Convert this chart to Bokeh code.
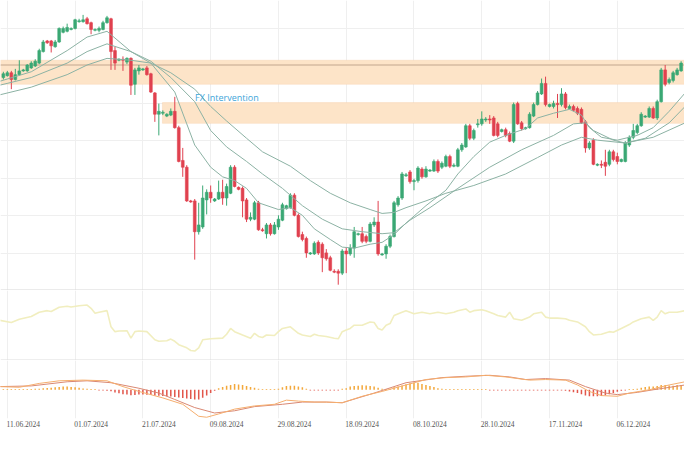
from bokeh.plotting import figure
from bokeh.layouts import column
from bokeh.models import Range1d, FixedTicker, BoxAnnotation, Span, Label, ColumnDataSource
from bokeh.embed import file_html
from bokeh.resources import INLINE

# ---------------- data ----------------
first_idx = -1  # candle index of the first candle; 0 = 11.06.2024
opens = [157.05, 157.20, 157.43, 156.89, 157.28, 157.58, 157.58, 157.82, 157.97, 158.20,
         159.12, 159.97, 159.97, 159.51, 159.89, 160.66, 160.74, 160.89, 160.97, 161.51,
         161.51, 161.74, 161.43, 160.82, 160.82, 160.89, 161.43, 161.74, 159.20, 158.43,
         158.51, 158.28, 158.58, 156.51, 157.58, 157.66, 157.82, 157.35, 155.82, 154.12,
         154.20, 153.97, 154.05, 154.35, 153.05, 150.43, 149.89, 147.20, 147.20, 144.74,
         145.12, 147.28, 147.89, 147.20, 147.35, 147.89, 147.43, 147.81, 149.89, 148.28,
         148.20, 147.28, 145.74, 145.74, 147.05, 144.89, 144.58, 145.28, 144.58, 145.12,
         145.66, 146.58, 146.66, 147.66, 146.05, 144.51, 144.20, 142.97, 142.97, 143.89,
         143.74, 143.05, 142.66, 141.58, 141.58, 141.43, 143.20, 142.97, 143.43, 144.51,
         144.58, 144.35, 143.97, 145.28, 145.51, 142.89, 142.97, 143.58, 144.35, 146.89,
         147.43, 149.20, 149.51, 148.74, 148.82, 149.74, 149.12, 149.58, 149.58, 150.35,
         149.89, 149.97, 150.74, 149.97, 149.97, 151.28, 151.51, 153.20, 152.20, 153.28,
         153.35, 153.66, 153.74, 153.82, 153.35, 152.74, 152.89, 152.58, 151.97, 154.97,
         153.43, 152.97, 153.05, 153.97, 154.89, 155.74, 156.58, 154.74, 154.74, 154.97,
         154.89, 155.74, 154.58, 154.74, 154.58, 154.51, 153.51, 151.43, 152.05, 150.05,
         150.12, 150.28, 150.12, 151.12, 150.74, 150.35, 150.35, 151.66, 152.28, 152.66,
         153.20, 153.89, 153.89, 154.58, 153.82, 155.12, 157.66, 156.66, 156.82, 157.28, 157.58]
highs = [157.51, 157.58, 157.58, 157.74, 158.43, 157.74, 158.12, 158.35, 158.51, 159.35,
         160.05, 160.05, 160.05, 160.05, 161.05, 161.12, 161.35, 161.05, 161.74, 161.74,
         162.05, 161.89, 161.51, 160.97, 161.12, 161.58, 161.97, 161.82, 159.51, 158.58,
         158.74, 158.66, 158.66, 157.82, 158.05, 157.82, 157.97, 157.43, 155.89, 154.97,
         154.43, 154.20, 154.58, 155.51, 153.20, 151.43, 150.05, 147.28, 147.35, 147.05,
         148.43, 148.12, 148.43, 147.43, 148.82, 148.89, 148.58, 150.05, 150.05, 148.35,
         148.35, 147.43, 146.28, 147.20, 147.20, 145.05, 145.43, 145.43, 145.51, 146.05,
         147.05, 146.89, 147.81, 147.81, 146.20, 144.74, 144.35, 143.12, 143.97, 144.05,
         143.89, 143.35, 142.82, 141.74, 141.74, 143.35, 143.51, 143.74, 145.12, 144.66,
         145.12, 144.51, 145.51, 145.89, 147.20, 143.05, 143.74, 144.51, 147.20, 147.58,
         149.51, 149.43, 149.66, 148.97, 149.97, 149.89, 149.97, 149.74, 150.51, 150.51,
         150.35, 150.89, 150.89, 150.20, 151.43, 151.82, 153.35, 153.35, 152.97, 153.74,
         154.35, 153.89, 154.05, 153.97, 153.51, 152.97, 153.05, 152.74, 155.05, 155.12,
         153.58, 153.12, 154.28, 155.05, 155.97, 156.97, 157.12, 154.97, 155.20, 155.74,
         156.20, 155.89, 154.89, 154.89, 154.74, 154.66, 153.66, 151.97, 152.20, 150.20,
         150.43, 151.28, 151.28, 151.28, 151.05, 150.58, 151.97, 152.43, 153.35, 153.35,
         154.28, 154.05, 154.74, 154.74, 155.28, 157.82, 158.05, 157.05, 157.58, 157.82, 158.35]
lows = [156.89, 157.12, 156.12, 156.82, 157.20, 157.51, 157.51, 157.74, 157.89, 158.12,
        159.05, 159.74, 159.05, 159.43, 159.82, 160.58, 160.66, 160.82, 160.89, 161.43,
        161.43, 161.28, 160.51, 160.74, 160.66, 160.82, 161.35, 157.66, 157.66, 158.35,
        157.58, 158.12, 155.66, 155.66, 157.28, 157.58, 157.20, 155.82, 153.51, 152.43,
        154.05, 153.89, 153.97, 152.97, 150.28, 149.12, 147.12, 147.05, 142.51, 144.51,
        144.97, 146.12, 147.05, 147.12, 147.28, 146.89, 146.82, 147.74, 148.28, 148.05,
        145.89, 145.51, 145.58, 145.66, 144.82, 144.74, 144.20, 144.43, 144.51, 144.89,
        145.58, 146.51, 146.58, 145.97, 144.28, 143.97, 142.66, 142.89, 142.89, 142.89,
        141.51, 142.43, 141.58, 141.43, 140.51, 141.28, 141.43, 142.82, 142.66, 144.43,
        143.82, 143.82, 143.89, 145.12, 142.82, 142.82, 142.58, 143.43, 144.28, 146.74,
        147.28, 149.12, 148.58, 148.05, 148.66, 148.97, 149.05, 149.51, 149.51, 149.43,
        149.74, 149.89, 149.82, 149.89, 149.89, 151.12, 151.43, 152.05, 152.05, 153.05,
        153.20, 153.51, 153.35, 152.35, 152.28, 152.66, 152.28, 151.89, 151.82, 153.28,
        152.82, 152.89, 152.97, 153.89, 154.82, 155.66, 154.74, 154.66, 154.58, 153.82,
        154.74, 154.51, 154.51, 154.35, 154.05, 153.35, 151.05, 151.28, 150.05, 149.97,
        149.82, 149.20, 149.97, 150.35, 150.12, 150.28, 150.28, 151.51, 152.12, 152.51,
        153.12, 153.82, 153.82, 153.74, 153.66, 155.05, 156.35, 156.51, 156.66, 157.20, 157.51]
closes = [157.35, 157.43, 156.89, 157.28, 157.58, 157.66, 158.05, 158.20, 158.35, 159.20,
          159.89, 159.82, 159.58, 159.89, 160.97, 160.97, 161.05, 160.97, 161.66, 161.58,
          161.66, 161.35, 160.89, 160.89, 160.97, 161.43, 161.82, 159.12, 158.20, 158.51,
          158.43, 158.58, 156.43, 157.66, 157.82, 157.74, 157.28, 155.89, 154.12, 154.35,
          154.28, 154.12, 154.35, 153.05, 150.35, 149.89, 147.20, 147.12, 144.74, 145.28,
          147.43, 147.89, 147.43, 147.35, 147.89, 147.43, 148.35, 149.89, 148.35, 148.12,
          147.20, 145.74, 145.89, 147.05, 144.89, 144.82, 145.28, 144.58, 145.28, 145.74,
          146.89, 146.82, 147.66, 146.05, 144.35, 144.12, 143.05, 143.05, 143.82, 143.05,
          142.66, 142.58, 141.66, 141.51, 141.43, 143.20, 142.97, 143.43, 144.74, 144.58,
          143.97, 143.97, 145.35, 145.51, 142.97, 142.97, 143.58, 144.35, 147.05, 147.43,
          149.35, 149.28, 148.74, 148.82, 149.82, 149.12, 149.74, 149.66, 150.35, 149.58,
          150.20, 150.74, 149.97, 150.05, 151.28, 151.66, 153.20, 152.20, 152.82, 153.35,
          153.74, 153.74, 153.66, 152.43, 152.43, 152.89, 152.43, 151.97, 154.89, 153.35,
          152.97, 153.05, 154.12, 154.89, 155.82, 156.58, 154.89, 154.89, 154.97, 154.89,
          155.74, 154.66, 154.74, 154.43, 154.20, 153.43, 151.43, 151.82, 150.12, 150.12,
          150.05, 149.97, 151.12, 150.51, 150.35, 150.51, 151.82, 152.28, 152.82, 153.20,
          154.12, 153.97, 154.58, 153.82, 155.12, 157.66, 156.51, 156.89, 157.43, 157.66, 158.20]

# moving averages (sampled along the three lines)
ma_fast_idx = [-2, 6, 15, 20, 25, 31, 36, 42, 45, 47, 51, 54, 57, 60, 63, 68, 71, 74, 77, 81,
               84, 87, 91, 94, 97, 100, 105, 110, 113, 117, 121, 125, 130, 133, 137, 141, 144,
               146, 149, 153, 158, 162, 166, 170]
ma_fast = [156.74, 157.51, 159.20, 160.28, 160.74, 159.12, 158.20, 155.89, 153.35, 151.66,
           149.89, 149.12, 148.82, 148.20, 147.05, 146.51, 146.66, 146.05, 144.97, 144.12,
           143.51, 143.43, 143.74, 143.89, 144.51, 145.43, 146.82, 148.05, 149.35, 150.74,
           151.89, 152.43, 152.97, 153.82, 154.20, 154.51, 154.05, 153.05, 152.28, 152.05,
           152.43, 153.05, 154.35, 155.82]
ma_mid_idx = [-2, 6, 15, 20, 25, 31, 36, 41, 47, 51, 55, 60, 64, 69, 74, 79, 84, 89, 94, 97,
              101, 106, 113, 121, 129, 137, 142, 145, 147, 152, 155, 160, 166, 170]
ma_mid = [156.43, 157.05, 158.20, 159.12, 159.74, 159.12, 158.35, 157.05, 155.12, 152.82,
          151.51, 150.35, 149.35, 148.20, 146.82, 145.74, 144.97, 144.74, 144.58, 144.66,
          145.66, 146.66, 148.20, 149.89, 151.28, 152.43, 153.35, 153.43, 152.82, 152.05,
          151.82, 152.20, 153.43, 154.74]
ma_slow_idx = [-2, 6, 15, 20, 25, 31, 36, 41, 47, 51, 55, 60, 64, 71, 76, 81, 86, 91, 94, 97,
               100, 105, 110, 117, 125, 133, 139, 144, 148, 155, 162, 170]
ma_slow = [155.66, 156.28, 157.28, 158.05, 158.58, 158.43, 158.20, 157.43, 156.12, 154.74,
           153.58, 152.20, 151.12, 149.97, 148.82, 147.81, 147.05, 146.51, 146.20, 146.28,
           146.66, 147.20, 147.81, 148.43, 149.35, 150.66, 151.66, 152.28, 152.05, 151.82,
           152.28, 153.43]

# RSI
rsi_idx = [-2, 1, 3, 6, 8, 10, 11, 13, 15, 16, 18, 20, 21, 22, 23, 25, 26, 27, 28, 30,
           31, 32, 33, 35, 37, 38, 40, 41, 42, 43, 45, 46, 47, 48, 49, 51, 54, 55, 56, 57,
           59, 61, 62, 63, 64, 65, 67, 68, 69, 71, 72, 73, 74, 76, 77, 78, 80, 82, 83, 84,
           85, 86, 87, 89, 91, 92, 93, 94, 95, 96, 97, 99, 100, 102, 104, 106, 108, 110, 112,
           113, 115, 116, 117, 119, 120, 122, 123, 125, 126, 127, 129, 131, 132, 134, 135,
           136, 138, 140, 141, 143, 145, 146, 147, 149, 151, 152, 154, 156, 157, 159, 161,
           162, 163, 164, 165, 166, 168, 170]
rsi = [57.4, 54.2, 58.8, 62.9, 69.0, 71.2, 69.9, 76.0, 77.4, 76.4, 78.2, 79.2, 74.6, 67.6,
       69.0, 71.2, 48.2, 41.2, 42.1, 42.6, 31.9, 41.2, 42.1, 41.2, 29.6, 27.4, 28.2, 30.6,
       27.4, 22.6, 18.1, 14.3, 13.5, 18.1, 29.6, 31.0, 31.9, 37.5, 45.8, 41.2, 36.5, 31.9,
       38.9, 34.3, 32.9, 36.5, 35.7, 41.2, 45.8, 48.2, 43.5, 38.9, 36.5, 34.3, 37.5, 35.7,
       34.3, 31.9, 31.0, 41.2, 43.5, 45.8, 50.4, 50.4, 55.1, 54.2, 45.8, 43.5, 50.4, 52.8,
       64.3, 69.0, 71.2, 66.7, 69.0, 66.7, 69.0, 66.7, 69.0, 71.2, 73.6, 69.0, 71.2, 72.6,
       71.2, 66.7, 64.3, 62.0, 69.0, 59.7, 57.4, 62.0, 66.7, 69.0, 62.0, 60.6, 60.6, 59.7,
       57.4, 55.1, 48.2, 41.2, 36.5, 37.5, 41.2, 40.3, 45.8, 51.3, 55.1, 59.7, 62.0, 57.4,
       62.0, 71.2, 66.7, 69.0, 69.0, 71.2]

# MACD
macd_idx = [-2, 3, 8, 13, 19, 25, 29, 33, 39, 44, 48, 50, 53, 57, 62, 67, 70, 73, 77, 80,
            84, 89, 94, 100, 105, 110, 115, 120, 125, 128, 131, 135, 140, 143, 146, 149, 153,
            156, 161, 166, 170]
macd = [0.33, 0.26, 0.66, 0.93, 1.00, 0.93, 0.33, -0.17, -0.84, -1.50, -2.74, -2.84, -2.50,
        -2.00, -1.67, -1.50, -1.07, -1.17, -1.27, -1.27, -1.34, -0.67, -0.17, 0.50, 1.06,
        1.26, 1.33, 1.50, 1.33, 1.16, 1.00, 1.06, 1.00, 0.50, -0.17, -0.60, -0.67, -0.34,
        0.00, 0.50, 0.83]
signal_idx = [-2, 6, 15, 20, 26, 33, 38, 42, 47, 52, 57, 62, 69, 74, 80, 84, 92, 100, 109,
              115, 121, 126, 130, 135, 141, 145, 150, 153, 158, 162, 170]
signal = [0.33, 0.40, 0.83, 0.93, 0.73, 0.16, -0.34, -1.00, -1.84, -2.40, -2.17, -1.74,
          -1.50, -1.27, -1.27, -1.34, -0.34, 0.73, 1.26, 1.40, 1.50, 1.33, 1.06, 1.16, 1.00,
          0.33, -0.34, -0.50, -0.27, 0.00, 0.50]
hist = [0.08, 0.08, 0.08, 0.08, 0.08, 0.08, 0.08, 0.08, 0.10, 0.12,
        0.15, 0.18, 0.22, 0.26, 0.30, 0.33, 0.33, 0.30, 0.25, 0.20,
        0.14, 0.10, 0.08, 0.08, -0.08, -0.08, -0.10, -0.15, -0.27, -0.35,
        -0.45, -0.50, -0.57, -0.55, -0.50, -0.50, -0.52, -0.55, -0.60, -0.62,
        -0.65, -0.67, -0.70, -0.75, -0.80, -0.85, -0.90, -0.95, -1.00, -1.00,
        -0.83, -0.60, -0.33, -0.10, 0.17, 0.30, 0.42, 0.50, 0.60, 0.55,
        0.50, 0.40, 0.30, 0.20, 0.12, 0.08, 0.08, 0.08, 0.08, 0.12,
        0.25, 0.40, 0.43, 0.43, 0.35, 0.27, 0.12, -0.08, -0.08, -0.08,
        -0.08, -0.08, -0.08, -0.08, -0.08, 0.10, 0.17, 0.33, 0.40, 0.43,
        0.47, 0.45, 0.40, 0.33, 0.20, 0.10, 0.08, 0.10, 0.25, 0.33,
        0.45, 0.57, 0.67, 0.72, 0.73, 0.60, 0.50, 0.40, 0.30, 0.17,
        0.10, 0.08, 0.08, 0.08, 0.08, 0.08, 0.08, 0.08, 0.08, 0.08,
        0.08, 0.08, -0.08, -0.08, -0.08, -0.08, -0.08, -0.08, -0.08, -0.08,
        -0.08, -0.08, -0.08, -0.08, -0.08, -0.08, -0.08, -0.08, -0.08, -0.08,
        -0.08, -0.10, -0.17, -0.25, -0.33, -0.45, -0.60, -0.67, -0.67, -0.67,
        -0.63, -0.57, -0.45, -0.33, -0.20, -0.10, -0.08, 0.08, 0.08, 0.12,
        0.20, 0.28, 0.33, 0.33, 0.40, 0.50, 0.50, 0.45, 0.43, 0.50, 0.50]

# zones and annotation
upper_zone = (156.51, 158.43)
upper_line = 158.05
lower_zone = (153.39, 155.05)
lower_zone_start = 38.9
annot_text = "FX Intervention"
annot_pos = (47.1, 155.43)

tick_idx = [0, 17, 34, 51, 68, 85, 102, 119, 136, 153]
tick_labels = ["11.06.2024", "01.07.2024", "21.07.2024", "09.08.2024", "29.08.2024",
               "18.09.2024", "08.10.2024", "28.10.2024", "17.11.2024", "06.12.2024"]
price_grid = [143, 146, 149, 152, 155, 158, 161]

# ---------------- styling ----------------
W = 684
GREEN = "#3aa874"
RED = "#e0414f"
MA_COLOR = "#8cb2a4"
GRID = "#efefef"
SEP = "#dcdcdc"

xr = Range1d(-1.716, 169.85)

def base_fig(h, yr, xaxis=False, **kw):
    f = figure(width=W, height=h, x_range=xr, y_range=yr,
               x_axis_location="below" if xaxis else None, y_axis_location=None,
               toolbar_location=None, output_backend="svg", min_border=0,
               outline_line_color=None, background_fill_color="white",
               border_fill_color="white", **kw)
    for g in f.xgrid:
        g.ticker = FixedTicker(ticks=tick_idx)
        g.grid_line_color = GRID
    return f

# ---- main price panel ----
p = base_fig(290, Range1d(140.046, 163.2))
for g in p.ygrid:
    g.ticker = FixedTicker(ticks=price_grid)
    g.grid_line_color = GRID

p.add_layout(BoxAnnotation(bottom=upper_zone[0], top=upper_zone[1], fill_color="#fde4c8",
                           fill_alpha=1, line_color="#f4c79c", line_width=1, level="underlay"))
p.add_layout(BoxAnnotation(left=lower_zone_start, bottom=lower_zone[0], top=lower_zone[1],
                           fill_color="#fde4c8", fill_alpha=1, line_color="#f4c79c",
                           line_width=1, level="underlay"))
p.add_layout(Span(location=upper_line, dimension="width", line_color="#c2a68e", line_width=1,
                  level="underlay"))
p.add_layout(Span(location=140.09, dimension="width", line_color=SEP, line_width=1))

idx = list(range(first_idx, first_idx + len(opens)))
colors = [GREEN if c >= o else RED for o, c in zip(opens, closes)]
src = ColumnDataSource(dict(x=idx, o=opens, h=highs, l=lows, c=closes,
                            top=[max(o, c) for o, c in zip(opens, closes)],
                            bot=[min(o, c) for o, c in zip(opens, closes)],
                            col=colors))
p.segment(x0="x", y0="l", x1="x", y1="h", color="col", line_width=1, source=src)
p.vbar(x="x", width=0.7, top="top", bottom="bot", fill_color="col", line_color="col",
       line_width=0.6, source=src)

for xi, yi in ((ma_fast_idx, ma_fast), (ma_mid_idx, ma_mid), (ma_slow_idx, ma_slow)):
    p.line(xi, yi, line_color=MA_COLOR, line_width=1)

p.add_layout(Label(x=annot_pos[0], y=annot_pos[1], text=annot_text,
                   text_font="Open Sans", text_font_size="9px", text_color="#3da5d9",
                   text_baseline="middle", text_align="left"))

# ---- RSI panel ----
r = base_fig(70, Range1d(0, 100))
for g in r.ygrid:
    g.visible = False
r.add_layout(Span(location=0.7, dimension="width", line_color=SEP, line_width=1))
r.line(rsi_idx, rsi, line_color="#f1eebf", line_width=1.6)

# ---- MACD panel ----
m = base_fig(74, Range1d(-2.97, 3.03), xaxis=True, min_border_bottom=16)
for g in m.ygrid:
    g.visible = False
hist_idx = list(range(first_idx, first_idx + len(hist)))
hcol = ["#f3a83c" if v >= 0 else "#e2574c" for v in hist]
m.vbar(x=hist_idx, width=0.38, top=hist, bottom=0, fill_color=hcol, line_color=None)
m.line(signal_idx, signal, line_color="#d98873", line_width=1)
m.line(macd_idx, macd, line_color="#f5ae6e", line_width=1)

ax = m.xaxis[0]
label_shift = 4  # labels start at their grid line
ax.ticker = FixedTicker(ticks=[t + label_shift for t in tick_idx])
ax.major_label_overrides = {t + label_shift: lab for t, lab in zip(tick_idx, tick_labels)}
ax.axis_line_color = None
ax.major_tick_line_color = None
ax.minor_tick_line_color = None
ax.major_tick_out = 0
ax.major_tick_in = 0
ax.major_label_standoff = 2
ax.major_label_text_font = "Liberation Sans Narrow"
ax.major_label_text_font_size = "7.5px"
ax.major_label_text_color = "#555555"

layout = column(p, r, m)
open("out.html", "w").write(file_html(layout, INLINE))
